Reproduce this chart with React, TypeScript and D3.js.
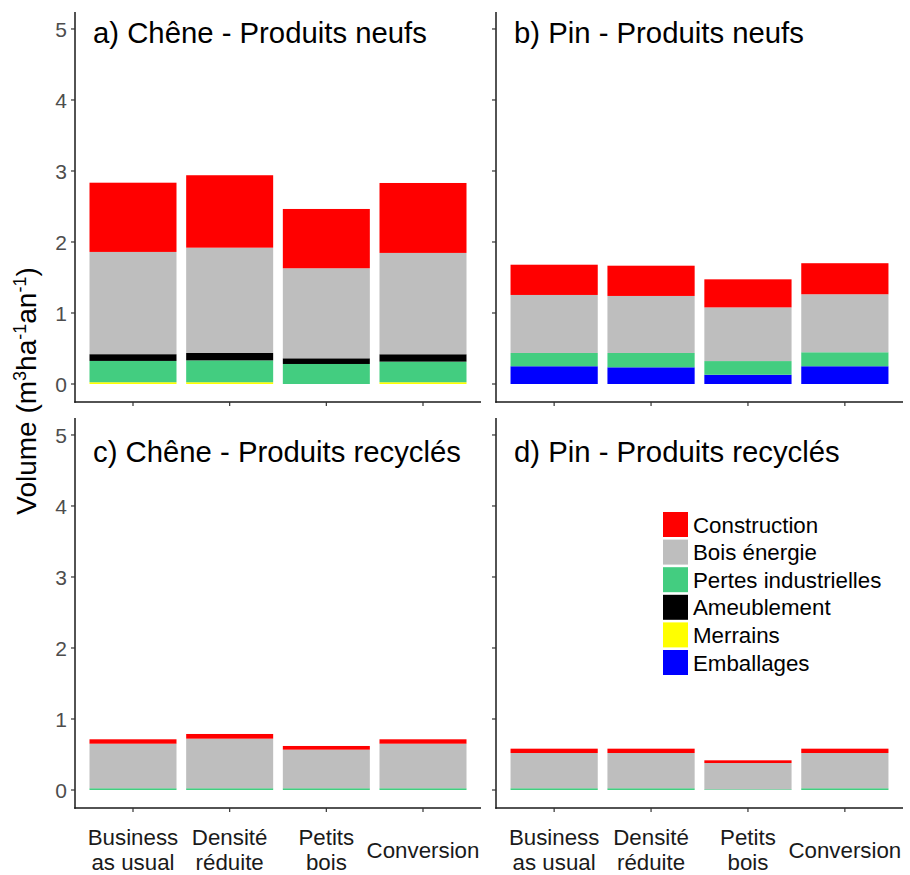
import React from "react";
import * as d3 from "d3";

const categories = ["Business as usual", "Densité réduite", "Petits bois", "Conversion"];
const categoryLines = [["Business", "as usual"], ["Densité", "réduite"], ["Petits", "bois"], ["Conversion"]];

const legendKeys = ["Construction", "Bois énergie", "Pertes industrielles", "Ameublement", "Merrains", "Emballages"];
const legendColors = ["#FF0000", "#BEBEBE", "#43CD80", "#000000", "#FFFF00", "#0000FF"];
const stackKeys = ["Emballages", "Merrains", "Pertes industrielles", "Ameublement", "Bois énergie", "Construction"];

const yTicks = [0, 1, 2, 3, 4, 5];

// a) Chêne - Produits neufs
const cheneNeufsConstruction = [0.975, 1.02, 0.835, 0.985];
const cheneNeufsBois = [1.44, 1.483, 1.268, 1.427];
const cheneNeufsPertes = [0.3, 0.308, 0.282, 0.29];
const cheneNeufsAmeublement = [0.095, 0.104, 0.08, 0.104];
const cheneNeufsMerrains = [0.025, 0.025, 0, 0.025];
const cheneNeufsEmballages = [0, 0, 0, 0];

// b) Pin - Produits neufs
const pinNeufsConstruction = [0.426, 0.426, 0.395, 0.437];
const pinNeufsBois = [0.817, 0.803, 0.756, 0.817];
const pinNeufsPertes = [0.187, 0.202, 0.193, 0.197];
const pinNeufsAmeublement = [0, 0, 0, 0];
const pinNeufsMerrains = [0, 0, 0, 0];
const pinNeufsEmballages = [0.25, 0.235, 0.13, 0.25];

// c) Chêne - Produits recyclés
const cheneRecConstruction = [0.062, 0.066, 0.052, 0.062];
const cheneRecBois = [0.627, 0.698, 0.543, 0.627];
const cheneRecPertes = [0.025, 0.025, 0.025, 0.025];
const cheneRecAmeublement = [0, 0, 0, 0];
const cheneRecMerrains = [0, 0, 0, 0];
const cheneRecEmballages = [0, 0, 0, 0];

// d) Pin - Produits recyclés
const pinRecConstruction = [0.061, 0.061, 0.038, 0.061];
const pinRecBois = [0.496, 0.496, 0.37, 0.496];
const pinRecPertes = [0.025, 0.025, 0.01, 0.025];
const pinRecAmeublement = [0, 0, 0, 0];
const pinRecMerrains = [0, 0, 0, 0];
const pinRecEmballages = [0, 0, 0, 0];

function buildRows(constr: number[], bois: number[], pertes: number[], ameub: number[], merr: number[], emb: number[]) {
  return categories.map((c, i) => ({
    cat: c,
    "Construction": constr[i],
    "Bois énergie": bois[i],
    "Pertes industrielles": pertes[i],
    "Ameublement": ameub[i],
    "Merrains": merr[i],
    "Emballages": emb[i],
  }));
}

const panels = [
  { title: "a) Chêne - Produits neufs", col: 0, row: 0, rows: buildRows(cheneNeufsConstruction, cheneNeufsBois, cheneNeufsPertes, cheneNeufsAmeublement, cheneNeufsMerrains, cheneNeufsEmballages) },
  { title: "b) Pin - Produits neufs", col: 1, row: 0, rows: buildRows(pinNeufsConstruction, pinNeufsBois, pinNeufsPertes, pinNeufsAmeublement, pinNeufsMerrains, pinNeufsEmballages) },
  { title: "c) Chêne - Produits recyclés", col: 0, row: 1, rows: buildRows(cheneRecConstruction, cheneRecBois, cheneRecPertes, cheneRecAmeublement, cheneRecMerrains, cheneRecEmballages) },
  { title: "d) Pin - Produits recyclés", col: 1, row: 1, rows: buildRows(pinRecConstruction, pinRecBois, pinRecPertes, pinRecAmeublement, pinRecMerrains, pinRecEmballages) },
];

const colX = [[75, 481], [496, 903]];
const rowY = [[12, 402], [418, 808]];
const FONT = "'Liberation Sans', Arial, sans-serif";

const colorScale = d3.scaleOrdinal<string, string>().domain(legendKeys).range(legendColors);
const stacker = d3.stack<any>().keys(stackKeys);

function Panel({ p }: { p: any }) {
  const [x0, x1] = colX[p.col];
  const [yT, yB] = rowY[p.row];
  const x = d3.scaleBand().domain(categories).range([x0, x1]).paddingInner(0.1).paddingOuter(0.15);
  const y = d3.scaleLinear().domain([-0.2535, 5.239]).range([yB, yT]);
  const series = stacker(p.rows);
  return (
    <g>
      {series.map((s: any) => (
        <g key={s.key} fill={colorScale(s.key)}>
          {s.map((d: any, i: number) => {
            const h = y(d[0]) - y(d[1]);
            if (h <= 0) return null;
            return <rect key={i} x={x(categories[i])} width={x.bandwidth()} y={y(d[1])} height={h} />;
          })}
        </g>
      ))}
      {/* y axis */}
      <line x1={x0} x2={x0} y1={yT} y2={yB + 0.75} stroke="#1a1a1a" strokeWidth={1.5} />
      {yTicks.map((t) => (
        <g key={t}>
          <line x1={x0 - 4} x2={x0} y1={y(t)} y2={y(t)} stroke="#333" strokeWidth={1.2} />
          {p.col === 0 && (
            <text x={x0 - 8} y={y(t)} dy="0.36em" textAnchor="end" fontSize={21} fill="#4d4d4d" fontFamily={FONT}>{t}</text>
          )}
        </g>
      ))}
      {/* x axis */}
      <line x1={x0 - 0.75} x2={x1} y1={yB} y2={yB} stroke="#1a1a1a" strokeWidth={1.5} />
      {categories.map((c, i) => {
        const cx = (x(c) as number) + x.bandwidth() / 2;
        return (
          <g key={c}>
            <line x1={cx} x2={cx} y1={yB} y2={yB + 4} stroke="#333" strokeWidth={1.2} />
            {p.row === 1 && (
              <text x={cx} textAnchor="middle" fontSize={22.3} fill="#1a1a1a" fontFamily={FONT}>
                {categoryLines[i].length === 2 ? (
                  <>
                    <tspan x={cx} y={yB + 37}>{categoryLines[i][0]}</tspan>
                    <tspan x={cx} y={yB + 62}>{categoryLines[i][1]}</tspan>
                  </>
                ) : (
                  <tspan x={cx} y={yB + 50}>{categoryLines[i][0]}</tspan>
                )}
              </text>
            )}
          </g>
        );
      })}
      <text x={x0 + 18} y={p.row === 0 ? yT + 31 : yT + 44} fontSize={29.3} fill="#000" fontFamily={FONT}>{p.title}</text>
    </g>
  );
}

export default function App() {
  return (
    <svg width={910} height={875} style={{ position: "absolute", left: 0, top: 0, background: "#fff" }}>
      <rect x={0} y={0} width={910} height={875} fill="#fff" />
      {panels.map((p) => <Panel key={p.title} p={p} />)}
      <text transform="translate(36,391) rotate(-90)" textAnchor="middle" fontSize={28} fill="#000" fontFamily={FONT}>
        Volume (m<tspan fontSize={18} dy={-10}>3</tspan><tspan dy={10}>ha</tspan><tspan fontSize={18} dy={-10}>-1</tspan><tspan dy={10}>an</tspan><tspan fontSize={18} dy={-10}>-1</tspan><tspan dy={10}>)</tspan>
      </text>
      {legendKeys.map((k, i) => (
        <g key={k}>
          <rect x={663} y={512 + i * 27.6} width={25} height={25} fill={colorScale(k)} />
          <text x={693} y={512 + i * 27.6 + 12.5} dy="0.36em" fontSize={22.3} fill="#000" fontFamily={FONT}>{k}</text>
        </g>
      ))}
    </svg>
  );
}
